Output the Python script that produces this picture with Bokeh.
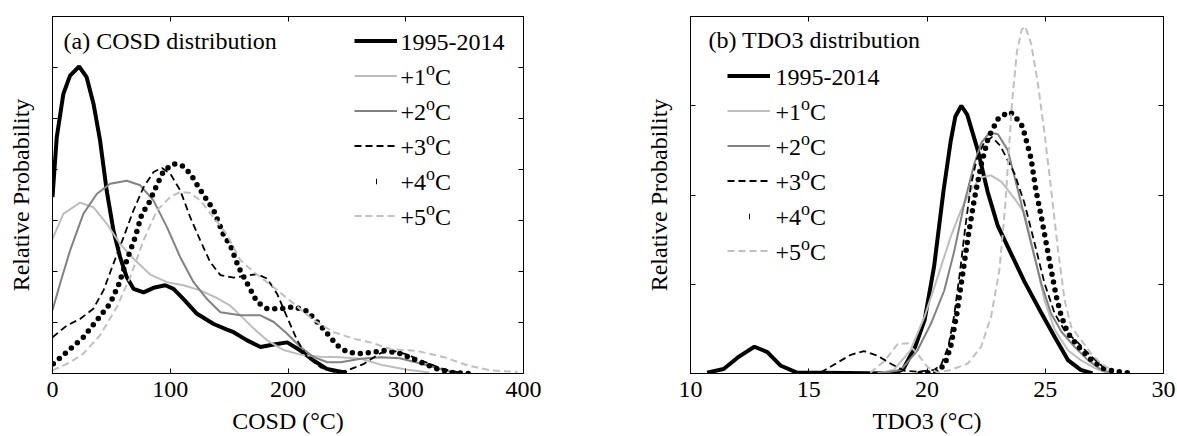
from bokeh.plotting import figure
from bokeh.models import LinearAxis, FixedTicker, Label, Legend, LegendItem, CustomJSTickFormatter
from bokeh.layouts import row
from bokeh.embed import file_html
from bokeh.resources import INLINE

FONT = "Liberation Serif"

# ---------------- data: (a) COSD distribution ----------------
cosd_xticks = [0, 100, 200, 300, 400]
cosd_yticks = [0, 1, 2, 3, 4, 5, 6, 7]

cosd_x_base = [0, 3.6, 9.2, 14.9, 22.6, 29, 34.8, 40.4, 46, 51.8, 57.4, 63, 68.8, 77.3, 85.8, 95.7, 102.8,
               111.3, 122.7, 136.9, 148.2, 153.8, 165.3, 176.6, 187.9, 199.3, 210.6, 222, 233, 250]
cosd_y_base = [3.46, 4.63, 5.48, 5.84, 6.02, 5.81, 5.29, 4.57, 3.59, 2.80, 2.28, 1.89, 1.66, 1.59, 1.68, 1.73, 1.66,
               1.46, 1.17, 0.97, 0.86, 0.81, 0.65, 0.52, 0.57, 0.61, 0.45, 0.25, 0.09, 0.01]

cosd_x_p1 = [0, 9.2, 23.4, 34.7, 46, 57.4, 68.8, 83, 97.2, 111.3, 125.5, 139.7, 151, 159.6, 170.9, 182.3,
             196.4, 210.6, 227.7, 244.7, 261.7, 281, 300, 320]
cosd_y_p1 = [2.64, 3.13, 3.35, 3.26, 2.94, 2.54, 2.25, 1.94, 1.79, 1.73, 1.63, 1.48, 1.33, 1.14, 0.88, 0.65,
             0.46, 0.37, 0.33, 0.32, 0.29, 0.16, 0.08, 0.02]

cosd_x_p2 = [0, 6.4, 14.9, 26.2, 37.6, 48.9, 63.1, 74.5, 85.8, 97.2, 108.5, 119.8, 131.2, 142.6, 159.6, 176.6,
             187.9, 199.3, 210.6, 222, 233.4, 244.7, 261.7, 278.7, 295, 315, 335, 347]
cosd_y_p2 = [1.24, 1.76, 2.41, 3.13, 3.52, 3.72, 3.78, 3.69, 3.39, 2.87, 2.28, 1.79, 1.46, 1.20, 1.14, 1.14,
             1.01, 0.78, 0.52, 0.32, 0.22, 0.22, 0.29, 0.32, 0.30, 0.18, 0.05, 0.0]

cosd_x_p3 = [0, 12.1, 23.4, 34.7, 43.3, 51.7, 60.3, 68.8, 77.3, 85.8, 92.9, 100, 108.5, 117, 125.5, 134, 142.6,
             153.9, 165.3, 173.8, 182.3, 190.8, 199.3, 207.8, 216.3, 227.7, 239, 250.4, 264.5, 278.7, 290, 300,
             315, 330, 345]
cosd_y_p3 = [0.71, 0.94, 1.07, 1.27, 1.63, 2.15, 2.67, 3.20, 3.65, 3.95, 4.03, 3.92, 3.59, 3.06, 2.61, 2.18, 1.93,
             1.88, 1.92, 1.95, 1.86, 1.56, 1.10, 0.65, 0.32, 0.12, 0.03, 0.06, 0.19, 0.40, 0.44, 0.38,
             0.24, 0.10, 0.02]

cosd_x_p4 = [0.7, 12.1, 26.2, 37.6, 48.9, 56, 63.1, 70.2, 75.9, 81.6, 87.2, 94.3, 102.8, 109.9, 117, 124.1,
             131.2, 136.9, 145.4, 151.1, 158.1, 166.6, 173.8, 182.3, 193.6, 204.9, 216.3, 224.9, 233.4, 241.9,
             250.4, 261.7, 273, 281.5, 295.7, 310, 324, 338.3, 355]
cosd_y_p4 = [0.19, 0.42, 0.71, 1.04, 1.37, 1.73, 2.22, 2.67, 3.13, 3.33, 3.62, 3.97, 4.11, 4.08, 3.92, 3.65,
             3.40, 3.20, 2.71, 2.51, 2.08, 1.71, 1.40, 1.27, 1.27, 1.31, 1.22, 1.01, 0.78, 0.55,
             0.42, 0.39, 0.42, 0.45, 0.39, 0.25, 0.11, 0.02, 0.0]

cosd_x_p5 = [0, 14.9, 26.2, 40.4, 54.6, 66, 77.3, 88.7, 100, 108.5, 117, 125.5, 136.9, 148.2, 159.6, 170.9,
             187.9, 204.9, 222, 239, 256, 270, 287, 310, 332.6, 352.5, 372, 395]
cosd_y_p5 = [0.06, 0.22, 0.39, 0.75, 1.30, 1.89, 2.61, 3.20, 3.46, 3.56, 3.54, 3.39, 3.06, 2.72, 2.22, 1.99,
             1.69, 1.37, 1.04, 0.81, 0.68, 0.61, 0.48, 0.44, 0.32, 0.16, 0.06, 0.03]

# ---------------- data: (b) TDO3 distribution ----------------
tdo3_xticks = [10, 15, 20, 25, 30]
tdo3_yticks = [0, 1, 2, 3, 4]

tdo3_x_base = [10.7, 11.4, 12.0, 12.7, 13.25, 13.8, 14.5, 18.6, 19.0, 19.5, 19.9, 20.3, 20.7, 21.0, 21.2,
               21.45, 21.7, 22.15, 22.57, 23.0, 23.56, 24.12, 24.83, 25.4, 25.96, 26.5, 27.0]
tdo3_y_base = [0.01, 0.05, 0.18, 0.30, 0.24, 0.09, 0.01, 0.0, 0.05, 0.30, 0.60, 1.20, 2.05, 2.60, 2.88,
               3.00, 2.90, 2.50, 2.03, 1.65, 1.34, 1.03, 0.68, 0.41, 0.15, 0.04, 0.0]

tdo3_x_p1 = [17.9, 18.6, 19.3, 19.9, 20.45, 21.0, 21.44, 21.86, 22.3, 22.7, 23.14, 23.7, 24.12, 24.55,
             24.97, 25.4, 25.96, 26.5, 27.1, 27.66]
tdo3_y_p1 = [0.0, 0.04, 0.26, 0.64, 1.08, 1.53, 1.83, 2.06, 2.20, 2.22, 2.15, 1.96, 1.80, 1.31,
             0.82, 0.49, 0.26, 0.15, 0.06, 0.0]

tdo3_x_p2 = [18.0, 18.9, 19.6, 20.17, 20.73, 21.16, 21.58, 22.0, 22.29, 22.64, 23.0, 23.42, 23.98, 24.4,
             24.83, 25.25, 25.68, 26.24, 26.8, 27.37, 27.9]
tdo3_y_p2 = [0.0, 0.04, 0.26, 0.56, 0.93, 1.38, 1.91, 2.35, 2.58, 2.70, 2.68, 2.50, 1.91, 1.46,
             1.01, 0.67, 0.47, 0.30, 0.15, 0.04, 0.0]

tdo3_x_p3 = [15.5, 16.2, 16.78, 17.34, 17.9, 18.47, 19.04, 19.6, 20.3, 20.6, 20.9, 21.15, 21.4, 21.6, 21.85,
             22.1, 22.4, 22.75, 23.1, 23.7, 24.12, 24.55, 24.97, 25.4, 25.8, 26.4, 26.95, 27.5, 27.9]
tdo3_y_p3 = [0.01, 0.12, 0.21, 0.25, 0.20, 0.11, 0.03, 0.02, 0.04, 0.10, 0.30, 0.65, 1.15, 1.60, 2.10,
             2.40, 2.58, 2.65, 2.55, 2.24, 1.91, 1.46, 1.01, 0.67, 0.49, 0.34, 0.19, 0.06, 0.02]

tdo3_x_p4 = [19.7, 20.4, 20.75, 21.0, 21.25, 21.5, 21.75, 22.0, 22.3, 22.6, 23.0, 23.42, 23.56, 23.98, 24.12,
             24.4, 24.6, 24.83, 25.04, 25.25, 25.47, 25.68, 25.96, 26.4, 26.95, 27.5, 28.08, 28.8]
tdo3_y_p4 = [0.0, 0.02, 0.10, 0.30, 0.65, 1.10, 1.55, 1.95, 2.35, 2.65, 2.85, 2.93, 2.92, 2.80, 2.69,
             2.41, 2.06, 1.76, 1.46, 1.16, 0.86, 0.64, 0.45, 0.30, 0.15, 0.05, 0.02, 0.0]

tdo3_x_p5 = [17.6, 18.2, 18.76, 19.18, 19.6, 20.03, 20.45, 21.0, 21.72, 22.29, 22.71, 23.06, 23.3, 23.45,
             23.6, 23.8, 24.0, 24.15, 24.4, 24.69, 24.97, 25.25, 25.54, 25.82, 26.1, 26.53, 26.95, 27.37, 27.8]
tdo3_y_p5 = [0.01, 0.14, 0.33, 0.34, 0.22, 0.07, 0.01, 0.04, 0.11, 0.30, 0.64, 1.16, 1.85, 2.45,
             3.05, 3.60, 3.85, 3.89, 3.70, 3.25, 2.69, 2.06, 1.38, 0.82, 0.52, 0.37, 0.22, 0.11, 0.04]

series_names = ["1995-2014", "+1", "+2", "+3", "+4", "+5"]

# ---------------- styles ----------------
STYLES = [
    dict(line_color="black", line_width=4),
    dict(line_color="#bdbdbd", line_width=2),
    dict(line_color="#828282", line_width=2),
    dict(line_color="black", line_width=1.8, line_dash="7 4"),
    dict(line_color="black", line_width=5.5, line_dash="0 8", line_cap="round"),
    dict(line_color="#c0c0c0", line_width=2, line_dash="7 4"),
]
FH = 357
TOP = 16
FS = 24
TEXT_DY = -10     # Label draws its baseline ~10px below the given y
CHAR_W = {'+': 0.564, 'o': 0.5, 'C': 0.667, 'O': 0.722, 'S': 0.556, 'D': 0.722, 'T': 0.611,
          ' ': 0.25, '(': 0.333, ')': 0.333, '-': 0.333}


def text_w(s, size):
    return sum(CHAR_W.get(c, 0.5) for c in s) * size


def rich(fig, cx, cy, parts):
    cy = cy + TEXT_DY
    for txt, size, rise in parts:
        fig.add_layout(Label(x=cx, y=cy - rise, x_units="canvas", y_units="canvas", text=txt,
                             text_font=FONT, text_font_size=f"{size}px", text_baseline="alphabetic",
                             text_align="left", text_color="black"))
        cx += text_w(txt, size)


def make_panel(xr, yr, xticks, yticks, fw, bl, br, xs, ys, title, title_pos, xlab,
               leg_x, leg_line0, text_x):
    p = figure(x_range=xr, y_range=yr, frame_width=fw, frame_height=FH,
               min_border_left=bl, min_border_right=br, min_border_top=TOP, min_border_bottom=63,
               output_backend="svg", toolbar_location=None)
    p.grid.visible = False
    p.outline_line_color = "black"
    p.outline_line_width = 1
    p.background_fill_color = "white"
    p.border_fill_color = "white"

    bottom = p.below[0]
    left = p.left[0]
    top = LinearAxis()
    right = LinearAxis()
    p.add_layout(top, "above")
    p.add_layout(right, "right")
    blank = CustomJSTickFormatter(code="return ''")
    for ax, ticks in ((bottom, xticks), (top, xticks), (left, yticks), (right, yticks)):
        ax.ticker = FixedTicker(ticks=ticks)
        ax.minor_tick_line_color = None
        ax.major_tick_in = 5
        ax.major_tick_out = 0
        ax.axis_line_color = "black"
        ax.major_tick_line_color = "black"
        ax.major_label_text_font = FONT
        ax.major_label_text_font_size = f"{FS}px"
        ax.major_label_text_color = "black"
    for ax in (top, right, left):
        ax.formatter = blank
        ax.major_label_standoff = 0
    bottom.major_label_standoff = 8
    for ax, lab, so in ((left, "Relative Probability", 19), (bottom, xlab, 8)):
        ax.axis_label = lab
        ax.axis_label_text_font = FONT
        ax.axis_label_text_font_size = f"{FS}px"
        ax.axis_label_text_font_style = "normal"
        ax.axis_label_text_color = "black"
        ax.axis_label_standoff = so

    renderers = []
    for x, y, st in zip(xs, ys, STYLES):
        renderers.append(p.line(x, y, **st))

    gh, sp = 31, 4
    leg_top = leg_line0 - gh / 2
    vy = FH - (leg_top + 6 * gh + 5 * sp)
    common = dict(orientation="vertical", padding=0, label_width=1, label_standoff=0,
                  label_text_font_size="8px", border_line_color=None, background_fill_alpha=0, margin=0)
    # rows 1-4 and 6 : line samples (row 5's dot is drawn by a third, tiny legend)
    items = [LegendItem(label=" ", renderers=[r]) for r in renderers[:4]]
    p.add_layout(Legend(items=items, location=(leg_x, vy + 2 * (gh + sp)), spacing=sp, glyph_width=43,
                        glyph_height=gh, label_height=gh, **common))
    p.add_layout(Legend(items=[LegendItem(label=" ", renderers=[renderers[5]])], location=(leg_x, vy),
                        spacing=sp, glyph_width=43, glyph_height=gh, label_height=gh, **common))
    # a very short sample of the dotted line shows as one single dot
    dot_cy = leg_line0 + 4 * (gh + sp)
    dg = 14
    p.add_layout(Legend(items=[LegendItem(label=" ", renderers=[renderers[4]])],
                        location=(leg_x + 21.5, FH - (dot_cy + dg / 2)), spacing=0,
                        glyph_width=1, glyph_height=dg, label_height=dg, **common))

    rich(p, bl + title_pos[0], TOP + title_pos[1], [(title, FS, 0)])
    for i, name in enumerate(series_names):
        base = TOP + leg_line0 + (gh + sp) * i + 11
        if i == 0:
            rich(p, bl + text_x, base, [(name, FS, 0)])
        else:
            rich(p, bl + text_x, base, [(name, FS, 0), ("o", 18, 8.5), ("C", FS, 0)])
    return p


p1 = make_panel((0, 400), (0, 7), cosd_xticks, cosd_yticks, 471, 52, 115,
                [cosd_x_base, cosd_x_p1, cosd_x_p2, cosd_x_p3, cosd_x_p4, cosd_x_p5],
                [cosd_y_base, cosd_y_p1, cosd_y_p2, cosd_y_p3, cosd_y_p4, cosd_y_p5],
                "(a) COSD distribution", (11, 34), "COSD (\u00b0C)", 302, 24.5, 348)
p2 = make_panel((10, 30), (0, 4), tdo3_xticks, tdo3_yticks, 473, 52, 14,
                [tdo3_x_base, tdo3_x_p1, tdo3_x_p2, tdo3_x_p3, tdo3_x_p4, tdo3_x_p5],
                [tdo3_y_base, tdo3_y_p1, tdo3_y_p2, tdo3_y_p3, tdo3_y_p4, tdo3_y_p5],
                "(b) TDO3 distribution", (18, 33), "TDO3 (\u00b0C)", 37, 59.5, 85)

layout = row(p1, p2, spacing=0)
open("out.html", "w").write(file_html(layout, INLINE))
